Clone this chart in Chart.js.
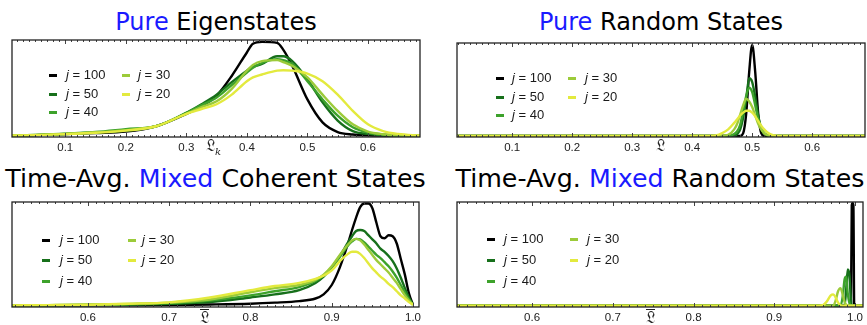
<!DOCTYPE html>
<html><head><meta charset="utf-8">
<script src="https://cdn.jsdelivr.net/npm/chart.js@4.4.0/dist/chart.umd.min.js"></script>
<style>
html,body{margin:0;padding:0;background:#fff;width:867px;height:325px;overflow:hidden;position:relative;}
canvas{position:absolute;}
.title{position:absolute;font-family:"DejaVu Sans",sans-serif;font-size:24px;line-height:24px;white-space:nowrap;transform:translateX(-50%);color:#000;}
.title.big{font-size:25.3px;}
.blue{color:#1a1aff;}
.lgm{position:absolute;width:8px;height:3px;}
.lgt{position:absolute;font-family:"Liberation Sans",Arial,sans-serif;font-size:13px;line-height:16px;color:#1a1a1a;white-space:nowrap;}
.ax{position:absolute;font-family:"DejaVu Serif","DejaVu Sans",serif;font-size:16px;line-height:16px;color:#222;white-space:nowrap;}
.ax sub{font-size:10px;font-style:italic;}
.ol{display:inline-block;border-top:1.2px solid #222;padding-top:1px;line-height:14px;}
</style>
</head><body>
<script>
// ---------- data ----------
const seriesJ = [100, 50, 40, 30, 20];
const ticksTop = [0.1, 0.2, 0.3, 0.4, 0.5, 0.6];
const ticksBottom = [0.6, 0.7, 0.8, 0.9, 1.0];

// Pure Eigenstates
const xs1 = [0.012,0.05,0.1,0.15,0.2,0.25,0.3,0.325,0.35,0.375,0.4,0.41,0.425,0.45,0.46,0.475,0.5,0.525,0.55,0.575,0.6,0.625,0.65,0.686];
const p1j100 = [0.003,0.008,0.018,0.03,0.045,0.1,0.23,0.31,0.42,0.625,0.87,0.96,0.98,0.97,0.9,0.73,0.38,0.14,0.04,0.014,0.005,0.002,0,0];
const p1j50  = [0.003,0.008,0.02,0.035,0.055,0.1,0.24,0.33,0.43,0.56,0.68,0.72,0.75,0.83,0.83,0.78,0.59,0.35,0.16,0.05,0.02,0.005,0.001,0];
const p1j40  = [0.003,0.01,0.022,0.04,0.07,0.1,0.24,0.32,0.4,0.53,0.66,0.71,0.76,0.8,0.79,0.75,0.57,0.38,0.21,0.09,0.035,0.014,0.004,0];
const p1j30  = [0.003,0.01,0.02,0.035,0.06,0.1,0.23,0.3,0.36,0.49,0.68,0.74,0.78,0.79,0.77,0.73,0.61,0.43,0.26,0.12,0.045,0.017,0.005,0.001];
const p1j20  = [0.003,0.008,0.018,0.032,0.055,0.1,0.23,0.28,0.33,0.43,0.57,0.61,0.64,0.68,0.685,0.68,0.65,0.57,0.43,0.26,0.12,0.05,0.02,0.003];

// Pure Random States
const xs2 = [0.008,0.1,0.2,0.3,0.4,0.43,0.44,0.45,0.46,0.47,0.475,0.48,0.485,0.49,0.495,0.5,0.505,0.51,0.515,0.52,0.525,0.53,0.54,0.55,0.6,0.688];
const p2j100 = [0,0,0,0,0,0,0,0,0,0,0,0,0.03,0.24,0.69,0.98,0.69,0.24,0.03,0,0,0,0,0,0,0];
const p2j50  = [0,0,0,0,0,0,0,0,0,0,0.02,0.07,0.2,0.4,0.62,0.58,0.42,0.22,0.08,0.025,0.005,0,0,0,0,0];
const p2j40  = [0,0,0,0,0,0,0,0,0,0.02,0.05,0.12,0.27,0.43,0.52,0.47,0.33,0.18,0.08,0.03,0.01,0,0,0,0,0];
const p2j30  = [0,0,0,0,0,0,0,0,0.01,0.07,0.13,0.23,0.33,0.4,0.37,0.31,0.22,0.13,0.07,0.03,0.01,0.003,0,0,0,0];
const p2j20  = [0,0,0,0,0,0,0.005,0.03,0.07,0.14,0.18,0.22,0.25,0.27,0.27,0.25,0.21,0.16,0.11,0.07,0.04,0.02,0.003,0,0,0];

// Time-Avg. Mixed Coherent States
const xs3 = [0.507,0.55,0.6,0.65,0.7,0.75,0.8,0.83,0.86,0.88,0.89,0.9,0.91,0.92,0.925,0.93,0.935,0.94,0.945,0.95,0.955,0.96,0.965,0.97,0.975,0.98,0.985,0.99,0.995,1.0];
const p3j100 = [0.002,0.003,0.004,0.005,0.007,0.012,0.02,0.03,0.045,0.07,0.11,0.2,0.37,0.6,0.73,0.85,0.95,0.985,0.985,0.94,0.8,0.67,0.65,0.68,0.67,0.6,0.45,0.3,0.12,0.01];
const p3j50  = [0.003,0.004,0.007,0.011,0.018,0.035,0.08,0.11,0.15,0.22,0.28,0.37,0.48,0.61,0.67,0.72,0.73,0.72,0.68,0.64,0.6,0.55,0.52,0.48,0.43,0.36,0.27,0.17,0.08,0.01];
const p3j40  = [0.003,0.005,0.009,0.015,0.025,0.05,0.1,0.14,0.18,0.24,0.29,0.37,0.47,0.58,0.62,0.645,0.64,0.61,0.57,0.53,0.49,0.46,0.42,0.38,0.33,0.27,0.2,0.13,0.06,0.01];
const p3j30  = [0.004,0.006,0.01,0.018,0.03,0.06,0.13,0.17,0.2,0.25,0.3,0.38,0.49,0.59,0.63,0.645,0.63,0.59,0.54,0.49,0.44,0.4,0.36,0.32,0.27,0.22,0.16,0.1,0.05,0.01];
const p3j20  = [0.004,0.006,0.01,0.02,0.033,0.08,0.15,0.19,0.22,0.26,0.29,0.34,0.43,0.5,0.52,0.52,0.5,0.46,0.41,0.36,0.32,0.28,0.25,0.21,0.18,0.14,0.1,0.07,0.035,0.01];

// Time-Avg. Mixed Random States
const xs4 = [0.507,0.8,0.95,0.96,0.965,0.97,0.973,0.976,0.979,0.982,0.985,0.987,0.989,0.991,0.993,0.995,0.996,0.997,0.998,0.999,1.0,1.01];
const p4j100 = [0,0,0,0,0,0,0,0,0,0,0,0,0,0,0,0,0.97,0.99,0.97,0,0,0];
const p4j50  = [0,0,0,0,0,0,0,0,0,0,0,0,0.15,0.35,0.3,0.05,0,0,0,0,0,0];
const p4j40  = [0,0,0,0,0,0,0,0,0,0,0.1,0.25,0.28,0.12,0.03,0,0,0,0,0,0,0];
const p4j30  = [0,0,0,0,0,0,0,0.05,0.14,0.17,0.1,0.04,0.01,0,0,0,0,0,0,0,0,0];
const p4j20  = [0,0,0,0.005,0.04,0.1,0.11,0.08,0.03,0.005,0,0,0,0,0,0,0,0,0,0,0,0];

// ---------- styles / layout ----------
const colorOf = {100:'#000000', 50:'#17701b', 40:'#3da22b', 30:'#9ccb3a', 20:'#e3ea3e'};

const panels = [
  {title:['Pure',' Eigenstates'], big:false, box:{l:12,t:40,r:420,b:137}, xmin:0.012, xmax:0.686, ticks:ticksTop, xs:xs1,
   ys:{100:p1j100,50:p1j50,40:p1j40,30:p1j30,20:p1j20}, titleTop:10, axis:{html:'𝔏<sub>k</sub>', x:206, y:138},
   leg:{m1:49, t1:66, m2:122, t2:138, rows:[75,94,112]}},
  {title:['Pure',' Random States'], big:false, box:{l:457,t:43,r:865,b:137}, xmin:0.008, xmax:0.688, ticks:ticksTop, xs:xs2,
   ys:{100:p2j100,50:p2j50,40:p2j40,30:p2j30,20:p2j20}, titleTop:10, axis:{html:'𝔏', x:656, y:138},
   leg:{m1:496, t1:512, m2:568, t2:585, rows:[78,97,115]}},
  {title:['Time-Avg. ','Mixed',' Coherent States'], big:true, box:{l:12,t:202,r:419,b:307}, xmin:0.5065, xmax:1.0074, ticks:ticksBottom, xs:xs3,
   ys:{100:p3j100,50:p3j50,40:p3j40,30:p3j30,20:p3j20}, titleTop:167, axis:{html:'<span class="ol">𝔏</span>', x:200, y:309},
   leg:{m1:42, t1:60, m2:128, t2:142, rows:[240,260,281]}},
  {title:['Time-Avg. ','Mixed',' Random States'], big:true, box:{l:457,t:202,r:863,b:307}, xmin:0.507, xmax:1.0099, ticks:ticksBottom, xs:xs4,
   ys:{100:p4j100,50:p4j50,40:p4j40,30:p4j30,20:p4j20}, titleTop:167, axis:{html:'<span class="ol">𝔏</span>', x:646, y:309},
   leg:{m1:487, t1:504, m2:570, t2:587, rows:[239,260,281]}}
];

const frameTicks = {
  id:'frameTicks',
  afterDraw(chart){
    const ctx = chart.ctx, a = chart.chartArea, xs = chart.scales.x;
    ctx.save();
    ctx.strokeStyle = '#444'; ctx.lineWidth = 1;
    const k0 = Math.ceil(xs.min*100 - 1e-9), k1 = Math.floor(xs.max*100 + 1e-9);
    for (let k = k0; k <= k1; k++) {
      const px = Math.round(xs.getPixelForValue(k/100)) + 0.5;
      const len = (k % 10 === 0) ? 4 : 2;
      ctx.beginPath();
      ctx.moveTo(px, a.top); ctx.lineTo(px, a.top + len);
      ctx.moveTo(px, a.bottom); ctx.lineTo(px, a.bottom - len);
      ctx.stroke();
    }
    ctx.strokeStyle = '#222'; ctx.lineWidth = 1.3;
    ctx.strokeRect(a.left, a.top, a.right - a.left, a.bottom - a.top);
    ctx.restore();
  }
};

panels.forEach((p, i) => {
  const b = p.box;
  const cv = document.createElement('canvas');
  const W = (b.r - b.l) + 20, H = (b.b - b.t) + 4 + 22;
  cv.width = W; cv.height = H;
  cv.style.left = (b.l - 10) + 'px'; cv.style.top = (b.t - 4) + 'px';
  cv.style.width = W + 'px'; cv.style.height = H + 'px';
  document.body.appendChild(cv);

  // j=20 first so it is drawn on top
  const order = [20, 30, 40, 50, 100];
  const datasets = order.map(j => ({
    label: 'j = ' + j,
    data: p.xs.map((x, k) => ({x: x, y: p.ys[j][k]})),
    borderColor: colorOf[j],
    borderWidth: 2.4,
    pointRadius: 0,
    fill: false,
    cubicInterpolationMode: 'monotone'
  }));

  new Chart(cv, {
    type: 'line',
    data: {datasets},
    options: {
      responsive: false, animation: false, devicePixelRatio: 1,
      layout: {padding: {left:10, right:10, top:4, bottom:0}},
      plugins: {legend:{display:false}, tooltip:{enabled:false}, title:{display:false}},
      scales: {
        x: {
          type: 'linear', min: p.xmin, max: p.xmax,
          grid: {display:false, drawTicks:false, tickLength:0},
          border: {display:false},
          ticks: {autoSkip:false, maxRotation:0, padding:4, color:'#222',
                  font:{family:'"Liberation Sans", Arial, sans-serif', size:11.5},
                  callback: v => Number(v).toFixed(1)},
          afterBuildTicks: s => { s.ticks = p.ticks.map(v => ({value:v})); },
          afterFit: s => { s.height = 22; }
        },
        y: {type:'linear', display:false, min:-0.012, max:1.0}
      }
    },
    plugins: [frameTicks]
  });

  // title
  const t = document.createElement('div');
  t.className = 'title' + (p.big ? ' big' : '');
  t.style.left = ((b.l + b.r) / 2) + 'px';
  t.style.top = p.titleTop + 'px';
  if (p.title.length === 2) {
    t.innerHTML = '<span class="blue">' + p.title[0] + '</span>' + p.title[1];
  } else {
    t.innerHTML = p.title[0] + '<span class="blue">' + p.title[1] + '</span>' + p.title[2];
  }
  document.body.appendChild(t);

  // axis label
  const ax = document.createElement('div');
  ax.className = 'ax';
  ax.style.left = p.axis.x + 'px'; ax.style.top = p.axis.y + 'px';
  ax.innerHTML = p.axis.html;
  document.body.appendChild(ax);

  // legend: column 1 = 100, 50, 40; column 2 = 30, 20
  seriesJ.forEach((j, k) => {
    const col2 = k >= 3;
    const row = col2 ? k - 3 : k;
    const y = p.leg.rows[row];
    const m = document.createElement('div');
    m.className = 'lgm';
    m.style.background = colorOf[j];
    m.style.left = (col2 ? p.leg.m2 : p.leg.m1) + 'px';
    m.style.top = (y - 1) + 'px';
    document.body.appendChild(m);
    const tx = document.createElement('div');
    tx.className = 'lgt';
    tx.style.left = (col2 ? p.leg.t2 : p.leg.t1) + 'px';
    tx.style.top = (y - 8) + 'px';
    tx.innerHTML = '<i>j</i> = ' + j;
    document.body.appendChild(tx);
  });
});
</script>
</body></html>
